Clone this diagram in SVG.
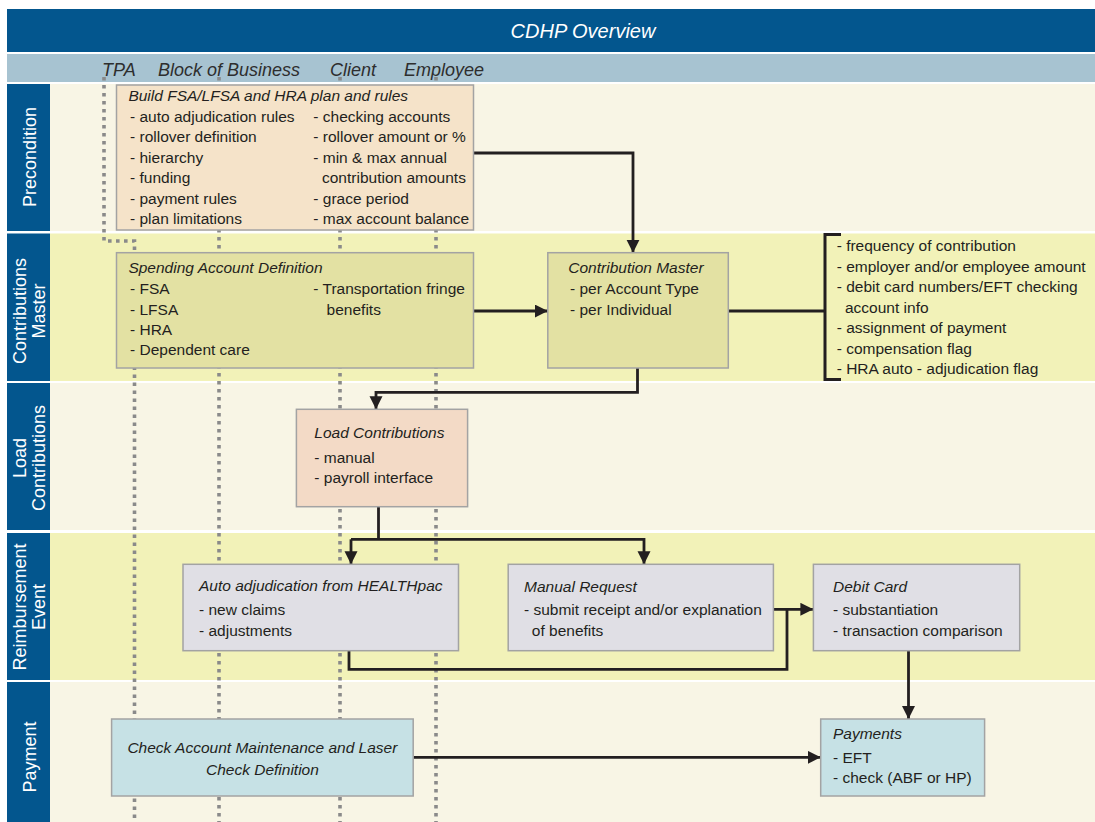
<svg xmlns="http://www.w3.org/2000/svg" width="1095" height="822" viewBox="0 0 1095 822">
<defs>
<style>
.t{font-family:"Liberation Sans",Arial,sans-serif;font-size:15.5px;fill:#231F20}
.i{font-style:italic}
.hd{font-family:"Liberation Sans",Arial,sans-serif;font-size:18px;font-style:italic;fill:#2E2E2E}
.lane{font-family:"Liberation Sans",Arial,sans-serif;font-size:18px;fill:#FFFFFF;text-anchor:middle}
.box{stroke:#A3A3A3;stroke-width:1.5}
.dot{fill:none;stroke:#8A8A8A;stroke-width:3.6;stroke-dasharray:3.6 4.4}
.c{fill:none;stroke:#231F20;stroke-width:2.8}
.cream{fill:#F8F5E5}
.yel{fill:#F2F2B8}
.lab{fill:#03568E}
</style>
<marker id="ah" markerUnits="userSpaceOnUse" markerWidth="14" markerHeight="14" refX="13" refY="6.5" orient="auto"><path d="M0,0 L13,6.5 L0,13 z" fill="#231F20"/></marker>
</defs>
<rect width="1095" height="822" fill="#FFFFFF"/>
<g id="header">
<rect x="7" y="9" width="1088" height="43" fill="#03568E"/>
<text x="583" y="38" font-family="Liberation Sans, Arial, sans-serif" font-size="20" font-style="italic" fill="#FFFFFF" text-anchor="middle">CDHP Overview</text>
<rect x="7" y="54" width="1088" height="28" fill="#A7C3D1"/>
<text class="hd" x="102" y="76">TPA</text>
<text class="hd" x="158" y="76">Block of Business</text>
<text class="hd" x="330" y="76">Client</text>
<text class="hd" x="404" y="76">Employee</text>
</g>
<g id="lanes">
<rect class="cream" x="50" y="84" width="1045" height="147"/>
<rect class="yel" x="50" y="233.5" width="1045" height="147.5"/>
<rect class="cream" x="50" y="383" width="1045" height="147"/>
<rect class="yel" x="50" y="533" width="1045" height="147"/>
<rect class="cream" x="50" y="682" width="1045" height="140"/>
<rect class="lab" x="7" y="84" width="43" height="147"/>
<rect class="lab" x="7" y="233.5" width="43" height="147.5"/>
<rect class="lab" x="7" y="383" width="43" height="147"/>
<rect class="lab" x="7" y="533" width="43" height="147"/>
<rect class="lab" x="7" y="682" width="43" height="140"/>
<text class="lane" transform="translate(36,157) rotate(-90)">Precondition</text>
<text class="lane" transform="translate(26,311) rotate(-90)">Contributions</text>
<text class="lane" transform="translate(45,311) rotate(-90)">Master</text>
<text class="lane" transform="translate(26,458) rotate(-90)">Load</text>
<text class="lane" transform="translate(45,458) rotate(-90)">Contributions</text>
<text class="lane" transform="translate(26,607) rotate(-90)">Reimbursement</text>
<text class="lane" transform="translate(45,607) rotate(-90)">Event</text>
<text class="lane" transform="translate(36,757) rotate(-90)">Payment</text>
</g>
<g id="swimlines">
<path class="dot" d="M104,77 V241 H134.5 V822"/>
<path class="dot" d="M219,77 V822"/>
<path class="dot" d="M340,77 V822"/>
<path class="dot" d="M436,77 V822"/>
</g>
<g id="connectors">
<path class="c" d="M473.6,153 H633 V252.7" marker-end="url(#ah)"/>
<path class="c" d="M473.6,311 H547.8" marker-end="url(#ah)"/>
<path class="c" d="M728.3,311 H825"/>
<path class="c" d="M637.5,368 V392.3 H376 V409.3" marker-end="url(#ah)"/>
<path class="c" d="M378.5,506.7 V539.3"/>
<path class="c" d="M351,539.3 H644 V564.3" marker-end="url(#ah)"/>
<path class="c" d="M351,539.3 V564.3" marker-end="url(#ah)"/>
<path class="c" d="M773.4,609.3 H813.4" marker-end="url(#ah)"/>
<path class="c" d="M349,650.7 V669.3 H787 V609.3"/>
<path class="c" d="M908.5,650.7 V719" marker-end="url(#ah)"/>
<path class="c" d="M413.2,757.3 H820.7" marker-end="url(#ah)"/>
</g>
<g id="precondition-box">
<rect class="box" x="116.5" y="85" width="357" height="145" fill="#F5E3C9"/>
<text class="t i" x="128.4" y="101">Build FSA/LFSA and HRA plan and rules</text>
<text class="t" x="130" y="122">- auto adjudication rules</text>
<text class="t" x="130" y="142">- rollover definition</text>
<text class="t" x="130" y="162.5">- hierarchy</text>
<text class="t" x="130" y="183">- funding</text>
<text class="t" x="130" y="203.5">- payment rules</text>
<text class="t" x="130" y="224">- plan limitations</text>
<text class="t" x="313.3" y="122">- checking accounts</text>
<text class="t" x="313.3" y="142">- rollover amount or %</text>
<text class="t" x="313.3" y="162.5">- min &amp; max annual</text>
<text class="t" x="322" y="183">contribution amounts</text>
<text class="t" x="313.3" y="203.5">- grace period</text>
<text class="t" x="313.3" y="224">- max account balance</text>
</g>
<g id="spending-account">
<rect class="box" x="116.5" y="252.7" width="357" height="115.3" fill="#E3E1A3"/>
<text class="t i" x="128.4" y="273.3">Spending Account Definition</text>
<text class="t" x="130" y="294">- FSA</text>
<text class="t" x="130" y="314.5">- LFSA</text>
<text class="t" x="130" y="335">- HRA</text>
<text class="t" x="130" y="355.3">- Dependent care</text>
<text class="t" x="313.3" y="294">- Transportation fringe</text>
<text class="t" x="326.6" y="314.5">benefits</text>
</g>
<g id="contribution-master">
<rect class="box" x="547.8" y="252.7" width="180.5" height="115.3" fill="#E3E1A3"/>
<text class="t i" x="568.3" y="273.3">Contribution Master</text>
<text class="t" x="570" y="294">- per Account Type</text>
<text class="t" x="570" y="314.5">- per Individual</text>
</g>
<g id="contribution-details">
<path d="M841,234.5 H825 V379.5 H841" fill="none" stroke="#231F20" stroke-width="3"/>
<text class="t" x="836.7" y="251">- frequency of contribution</text>
<text class="t" x="836.7" y="272">- employer and/or employee amount</text>
<text class="t" x="836.7" y="292.3">- debit card numbers/EFT checking</text>
<text class="t" x="845" y="313">account info</text>
<text class="t" x="836.7" y="333.3">- assignment of payment</text>
<text class="t" x="836.7" y="353.7">- compensation flag</text>
<text class="t" x="836.7" y="374">- HRA auto - adjudication flag</text>
</g>
<g id="load-contributions">
<rect class="box" x="296.4" y="409.3" width="171.2" height="97.4" fill="#F3DAC6"/>
<text class="t i" x="314.3" y="438.3">Load Contributions</text>
<text class="t" x="314.3" y="462.7">- manual</text>
<text class="t" x="314.3" y="483.3">- payroll interface</text>
</g>
<g id="auto-adjudication">
<rect class="box" x="183" y="564.3" width="275.5" height="86.4" fill="#E0DFE5"/>
<text class="t i" x="199" y="591">Auto adjudication from HEALTHpac</text>
<text class="t" x="199" y="615">- new claims</text>
<text class="t" x="199" y="636">- adjustments</text>
</g>
<g id="manual-request">
<rect class="box" x="508.2" y="564.3" width="265.2" height="86.4" fill="#E0DFE5"/>
<text class="t i" x="524" y="591.5">Manual Request</text>
<text class="t" x="524" y="615">- submit receipt and/or explanation</text>
<text class="t" x="531.8" y="636">of benefits</text>
</g>
<g id="debit-card">
<rect class="box" x="813.4" y="564.3" width="206.3" height="86.4" fill="#E0DFE5"/>
<text class="t i" x="833" y="591.5">Debit Card</text>
<text class="t" x="833" y="615">- substantiation</text>
<text class="t" x="833" y="636">- transaction comparison</text>
</g>
<g id="check-account">
<rect class="box" x="111.6" y="719" width="301.6" height="77" fill="#C6E1E5"/>
<text class="t i" x="262.4" y="753.3" text-anchor="middle">Check Account Maintenance and Laser</text>
<text class="t i" x="262.4" y="775" text-anchor="middle">Check Definition</text>
</g>
<g id="payments">
<rect class="box" x="820.7" y="719" width="163.9" height="77" fill="#C6E1E5"/>
<text class="t i" x="833" y="739">Payments</text>
<text class="t" x="833" y="763.3">- EFT</text>
<text class="t" x="833" y="783.3">- check (ABF or HP)</text>
</g>
</svg>
